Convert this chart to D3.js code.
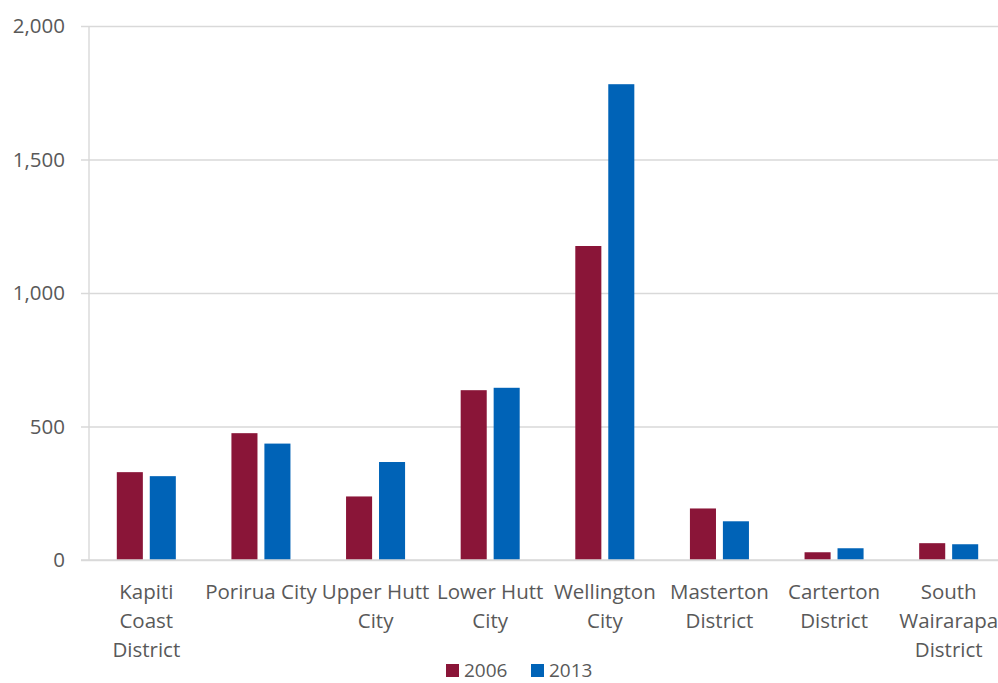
<!DOCTYPE html>
<html>
<head>
<meta charset="utf-8">
<script src="https://cdn.jsdelivr.net/npm/d3@7"></script>
<style>
  html, body { margin: 0; padding: 0; background: #fff; }
  svg { display: block; }
  text { font-family: "Open Sans", "Noto Sans", sans-serif; fill: #595959; }
</style>
</head>
<body>
<svg id="chart" width="998" height="683"></svg>
<script>
// Territorial authorities in the Wellington region
const categories = [
  "Kapiti Coast District", "Porirua City", "Upper Hutt City", "Lower Hutt City",
  "Wellington City", "Masterton District", "Carterton District", "South Wairarapa District"
];
// How each category name breaks across lines under the axis
const categoryLines = [
  ["Kapiti", "Coast", "District"],
  ["Porirua City"],
  ["Upper Hutt", "City"],
  ["Lower Hutt", "City"],
  ["Wellington", "City"],
  ["Masterton", "District"],
  ["Carterton", "District"],
  ["South", "Wairarapa", "District"]
];
const seriesNames = ["2006", "2013"];
const values2006 = [329, 475, 238, 636, 1176, 193, 29, 63];
const values2013 = [314, 436, 367, 645, 1782, 145, 44, 59];
const yTicks = [0, 500, 1000, 1500, 2000];

const colors = { "2006": "#8A1538", "2013": "#0063B7" };

const svg = d3.select("#chart");
const plotLeft = 89, plotRight = 1006, plotTop = 26, plotBottom = 560;

const x = d3.scaleBand().domain(categories).range([plotLeft, plotRight]).paddingInner(0).paddingOuter(0);
const inner = d3.scaleBand().domain(seriesNames).range([27.8, x.bandwidth() - 27.8]).paddingInner(0.21);
const y = d3.scaleLinear().domain([0, 2000]).range([plotBottom, plotTop]);

// Horizontal gridlines with short outside ticks on the value axis
const yAxis = d3.axisLeft(y).tickValues(yTicks).tickSize(-(998 - plotLeft)).tickFormat(d3.format(","));
const gy = svg.append("g").attr("transform", `translate(${plotLeft},0)`).call(yAxis);
gy.select(".domain").remove();
gy.selectAll(".tick line").attr("stroke", "#d9d9d9").attr("stroke-width", 1.4).attr("x1", -8);
gy.selectAll(".tick text").attr("x", -24).attr("dy", "0.34em")
  .style("font-size", "20.5px").style("fill", "#595959");

// Vertical value-axis line
svg.append("line").attr("x1", plotLeft).attr("x2", plotLeft).attr("y1", plotTop).attr("y2", plotBottom)
  .attr("stroke", "#d9d9d9").attr("stroke-width", 1.4);

// Bars
const rows = categories.map((c, i) => ({ c, i, vals: [values2006[i], values2013[i]] }));
const groups = svg.append("g").selectAll("g").data(rows).join("g")
  .attr("transform", d => `translate(${x(d.c)},0)`);
groups.selectAll("rect").data(d => seriesNames.map((s, k) => ({ s, v: d.vals[k] }))).join("rect")
  .attr("x", d => inner(d.s))
  .attr("width", inner.bandwidth())
  .attr("y", d => y(d.v))
  .attr("height", d => y(0) - y(d.v))
  .attr("fill", d => colors[d.s]);

// Category axis line
svg.append("line").attr("x1", plotLeft - 8).attr("x2", 998).attr("y1", plotBottom).attr("y2", plotBottom)
  .attr("stroke", "#d9d9d9").attr("stroke-width", 1.4);

// Category labels
const xAxis = d3.axisBottom(x).tickSize(0).tickFormat("");
const gx = svg.append("g").attr("transform", `translate(0,${plotBottom})`).call(xAxis);
gx.select(".domain").remove();
gx.selectAll(".tick").each(function(d, i) {
  const t = d3.select(this).append("text")
    .attr("text-anchor", "middle")
    .style("font-size", "20.5px");
  categoryLines[i].forEach((line, k) => {
    t.append("tspan").attr("x", 0).attr("y", 39.3 + k * 28.7).text(line);
  });
});

// Legend
const legendItems = [
  { s: "2006", x: 446 },
  { s: "2013", x: 531 }
];
const lg = svg.append("g");
legendItems.forEach(it => {
  lg.append("rect").attr("x", it.x).attr("y", 664).attr("width", 13).attr("height", 13).attr("fill", colors[it.s]);
  lg.append("text").attr("x", it.x + 18).attr("y", 670.5).attr("dy", "0.35em")
    .style("font-size", "19px").text(it.s);
});
</script>
</body>
</html>
